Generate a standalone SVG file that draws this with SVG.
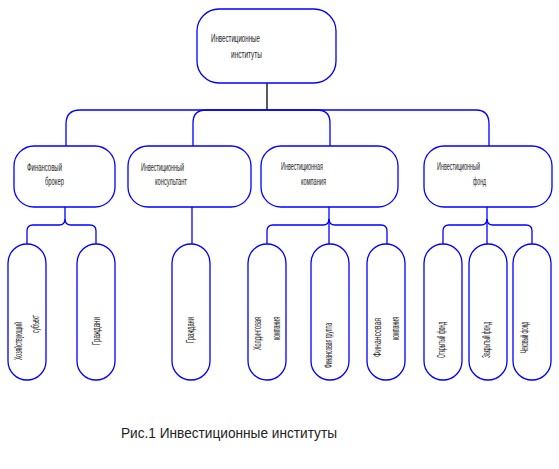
<svg xmlns="http://www.w3.org/2000/svg" width="559" height="469" viewBox="0 0 559 469">
<style>
.box{fill:#fff;stroke:#0000ff;stroke-width:1.3}
.con{fill:none;stroke:#0000ff;stroke-width:1.3}
.t{font-family:"Liberation Sans",Arial,sans-serif;font-size:10px;fill:#222}
.tt{font-family:"Liberation Sans",Arial,sans-serif;font-size:11px;fill:#222}
.cap{font-family:"Liberation Sans",Arial,sans-serif;font-size:14px;fill:#222}
</style>
<rect width="559" height="469" fill="#fff"/>
<g id="connectors">
<path d="M267,83 V110" fill="none" stroke="#000" stroke-width="1.3"/>
<path class="con" d="M267,110 H80 Q66,110 66,124 V146"/>
<path class="con" d="M267,110 H206 Q193,110 193,123 V146"/>
<path class="con" d="M267,110 H317 Q330,110 330,123 V146"/>
<path class="con" d="M267,110 H476 Q489,110 489,124 V146"/>
<path class="con" d="M65,207 V219 Q65,225 59,225 H33 Q27,225 27,231 V244"/>
<path class="con" d="M65,219 Q65,225 71,225 H90 Q96,225 96,231 V244"/>
<path class="con" d="M192,207 V244"/>
<path class="con" d="M329,207 V244"/>
<path class="con" d="M329,219 Q329,225 323,225 H273 Q267,225 267,231 V244"/>
<path class="con" d="M329,219 Q329,225 335,225 H381 Q387,225 387,231 V244"/>
<path class="con" d="M487,207 V244"/>
<path class="con" d="M487,219 Q487,225 481,225 H449 Q443,225 443,231 V244"/>
<path class="con" d="M487,219 Q487,225 493,225 H526 Q532,225 532,231 V244"/>
</g>
<g id="root">
<rect class="box" x="197" y="9" width="139" height="74" rx="22"/>
<text class="tt" x="211" y="42" textLength="49" lengthAdjust="spacingAndGlyphs">Инвестиционные</text>
<text class="tt" x="231" y="58" textLength="31" lengthAdjust="spacingAndGlyphs">институты</text>
</g>
<g id="broker">
<rect class="box" x="14" y="146" width="101" height="61" rx="20"/>
<text class="t" x="27" y="171" textLength="35" lengthAdjust="spacingAndGlyphs">Финансовый</text>
<text class="t" x="45" y="185" textLength="19" lengthAdjust="spacingAndGlyphs">брокер</text>
</g>
<g id="consultant">
<rect class="box" x="128" y="146" width="123" height="61" rx="20"/>
<text class="t" x="141" y="171" textLength="43" lengthAdjust="spacingAndGlyphs">Инвестиционный</text>
<text class="t" x="155" y="185" textLength="32" lengthAdjust="spacingAndGlyphs">консультант</text>
</g>
<g id="company">
<rect class="box" x="261" y="146" width="137" height="61" rx="20"/>
<text class="t" x="281" y="170" textLength="42" lengthAdjust="spacingAndGlyphs">Инвестиционная</text>
<text class="t" x="301" y="185" textLength="25" lengthAdjust="spacingAndGlyphs">компания</text>
</g>
<g id="fund">
<rect class="box" x="424" y="146" width="128" height="61" rx="20"/>
<text class="t" x="437" y="170" textLength="43" lengthAdjust="spacingAndGlyphs">Инвестиционный</text>
<text class="t" x="473" y="185" textLength="13" lengthAdjust="spacingAndGlyphs">фонд</text>
</g>
<g id="subject">
<rect class="box" x="8" y="244" width="38" height="136" rx="19"/>
<text class="t" transform="translate(22,360) rotate(-90)" textLength="38" lengthAdjust="spacingAndGlyphs">Хозяйствующий</text>
<text class="t" transform="translate(39,333) rotate(-90)" textLength="18" lengthAdjust="spacingAndGlyphs">субъект</text>
</g>
<g id="citizens1">
<rect class="box" x="77" y="244" width="38" height="136" rx="19"/>
<text class="t" transform="translate(100,345) rotate(-90)" textLength="28" lengthAdjust="spacingAndGlyphs">Граждани</text>
</g>
<g id="citizens2">
<rect class="box" x="172" y="244" width="38" height="136" rx="19"/>
<text class="t" transform="translate(194,343) rotate(-90)" textLength="26" lengthAdjust="spacingAndGlyphs">Граждани</text>
</g>
<g id="holding">
<rect class="box" x="248" y="244" width="38" height="136" rx="19"/>
<text class="t" transform="translate(261,350) rotate(-90)" textLength="33" lengthAdjust="spacingAndGlyphs">Холдинговая</text>
<text class="t" transform="translate(280,340) rotate(-90)" textLength="23" lengthAdjust="spacingAndGlyphs">компания</text>
</g>
<g id="fingroup">
<rect class="box" x="311" y="244" width="38" height="136" rx="19"/>
<text class="t" transform="translate(332,368) rotate(-90)" textLength="45" lengthAdjust="spacingAndGlyphs">Финансовая группа</text>
</g>
<g id="fincompany">
<rect class="box" x="367" y="244" width="38" height="136" rx="19"/>
<text class="t" transform="translate(381,357) rotate(-90)" textLength="39" lengthAdjust="spacingAndGlyphs">Финансовая</text>
<text class="t" transform="translate(399,340) rotate(-90)" textLength="23" lengthAdjust="spacingAndGlyphs">компания</text>
</g>
<g id="openfund">
<rect class="box" x="424" y="244" width="38" height="136" rx="19"/>
<text class="t" transform="translate(445,358) rotate(-90)" textLength="36" lengthAdjust="spacingAndGlyphs">Открытый фонд</text>
</g>
<g id="closedfund">
<rect class="box" x="469" y="244" width="38" height="136" rx="19"/>
<text class="t" transform="translate(490,358) rotate(-90)" textLength="36" lengthAdjust="spacingAndGlyphs">Закрытый фонд</text>
</g>
<g id="checkfund">
<rect class="box" x="513" y="244" width="38" height="136" rx="19"/>
<text class="t" transform="translate(528,353) rotate(-90)" textLength="31" lengthAdjust="spacingAndGlyphs">Чековый фонд</text>
</g>
<text class="cap" x="121" y="438" textLength="216" lengthAdjust="spacingAndGlyphs">Рис.1 Инвестиционные институты</text>
</svg>
